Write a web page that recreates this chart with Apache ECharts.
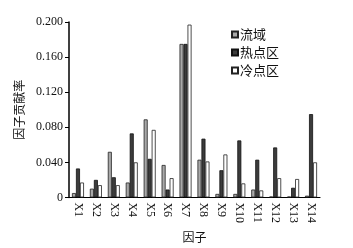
<!DOCTYPE html>
<html>
<head>
<meta charset="utf-8">
<script src="https://cdn.jsdelivr.net/npm/echarts@6/dist/echarts.min.js"></script>
<style>
    html, body { margin: 0; padding: 0; background: #fff; }
    #chart { width: 353px; height: 248px; }
</style>
</head>
<body>
<div id="chart"></div>
<script>
// 因子
const categories = ['X1', 'X2', 'X3', 'X4', 'X5', 'X6', 'X7', 'X8', 'X9', 'X10', 'X11', 'X12', 'X13', 'X14'];
// 流域
const basinData = [0.005, 0.010, 0.052, 0.017, 0.089, 0.037, 0.175, 0.043, 0.004, 0.004, 0.009, 0.001, 0.001, 0.002];
// 热点区
const hotData = [0.033, 0.020, 0.023, 0.073, 0.044, 0.009, 0.175, 0.067, 0.031, 0.065, 0.043, 0.057, 0.011, 0.095];
// 冷点区
const coldData = [0.017, 0.014, 0.014, 0.040, 0.077, 0.022, 0.197, 0.041, 0.049, 0.016, 0.008, 0.022, 0.021, 0.040];
const yTicks = [0, 0.04, 0.08, 0.12, 0.16, 0.2];

const serif = '"Liberation Serif", "Noto Sans CJK SC", serif';
const cjk = '"Noto Sans CJK SC", "Liberation Serif", serif';

const myChart = echarts.init(document.getElementById('chart'));
const option = {
    animation: false,
    grid: {
        left: 69,
        right: 33,
        top: 22,
        bottom: 47
    },
    legend: {
        orient: 'vertical',
        left: 226,
        top: 23,
        icon: 'rect',
        itemWidth: 6,
        itemHeight: 6,
        itemGap: 5,
        textStyle: {
            fontFamily: cjk,
            fontSize: 13,
            color: '#111',
            padding: [0, 0, 0, -3]
        },
        data: ['流域', '热点区', '冷点区']
    },
    xAxis: {
        type: 'category',
        data: categories,
        name: '因子',
        nameLocation: 'middle',
        nameGap: 33,
        nameTextStyle: { fontFamily: cjk, fontSize: 12, color: '#111' },
        axisLine: { lineStyle: { color: '#000', width: 1.2 } },
        axisTick: { inside: true, length: 3, lineStyle: { color: '#000' } },
        axisLabel: {
            rotate: -90,
            margin: 5,
            fontFamily: serif,
            fontSize: 12,
            color: '#111'
        }
    },
    yAxis: {
        type: 'value',
        min: 0,
        max: 0.2,
        interval: 0.04,
        name: '因子贡献率',
        nameLocation: 'middle',
        nameGap: 36,
        nameTextStyle: { fontFamily: cjk, fontSize: 12, color: '#111' },
        axisLine: { show: true, lineStyle: { color: '#000', width: 1.5 } },
        axisTick: { show: true, length: 4, lineStyle: { color: '#000' } },
        splitLine: { show: false },
        axisLabel: {
            margin: 6,
            fontFamily: serif,
            fontSize: 12,
            color: '#111',
            formatter: (v) => {
                const t = yTicks.find(x => Math.abs(x - v) < 1e-9);
                return t === 0 ? '0' : v.toFixed(3);
            }
        }
    },
    series: [
        {
            name: '流域',
            type: 'bar',
            data: basinData,
            barWidth: 4,
            barGap: '0%',
            itemStyle: { color: '#a9a9a9', borderColor: '#222', borderWidth: 0.8 }
        },
        {
            name: '热点区',
            type: 'bar',
            data: hotData,
            barWidth: 4,
            barGap: '0%',
            itemStyle: { color: '#3c3c3c', borderColor: '#111', borderWidth: 0.8 }
        },
        {
            name: '冷点区',
            type: 'bar',
            data: coldData,
            barWidth: 4,
            barGap: '0%',
            itemStyle: { color: '#ffffff', borderColor: '#222', borderWidth: 0.8 }
        }
    ]
};
myChart.setOption(option);
</script>
</body>
</html>
